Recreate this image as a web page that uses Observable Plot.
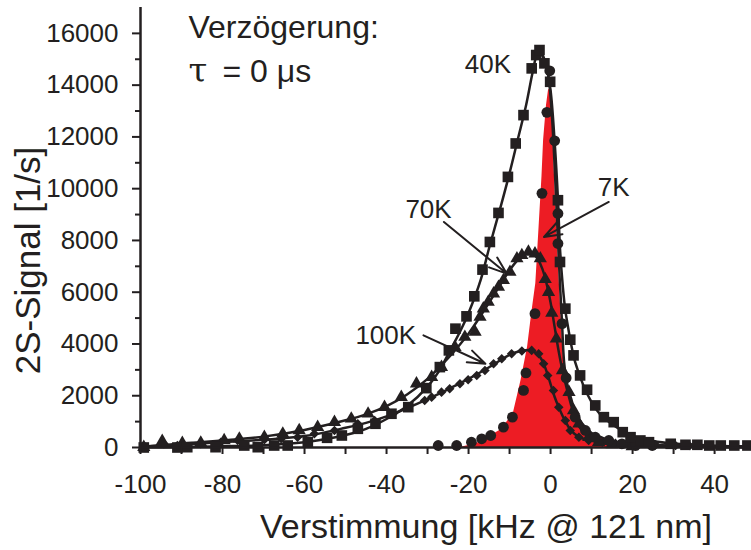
<!DOCTYPE html>
<html><head><meta charset="utf-8">
<script src="https://cdn.jsdelivr.net/npm/d3@7"></script>
<script src="https://cdn.jsdelivr.net/npm/@observablehq/plot@0.6"></script>
<style>body{margin:0;background:#fff}</style>
</head><body><div id="chart"></div>
<script>
// ---- axes ----
const xTicks = [-100, -80, -60, -40, -20, 0, 20, 40];
const xMinorTicks = [-90, -70, -50, -30, -10, 10, 30];
const yTicks = [0, 2000, 4000, 6000, 8000, 10000, 12000, 14000, 16000];
const yMinorTicks = [1000, 3000, 5000, 7000, 9000, 11000, 13000, 15000];
const xTitle = "Verstimmung [kHz @ 121 nm]";
const yTitle = "2S-Signal [1/s]";

// ---- 40K (squares) ----
const sq40x = [-99.2,-91.0,-88.6,-81.7,-74.7,-71.4,-67.4,-64.1,-59.2,-54.5,-50.9,-47.0,-42.7,-38.8,-34.7,-30.3,-27.0,-24.8,-23.2,-20.5,-18.6,-16.6,-14.8,-12.7,-10.4,-8.5,-6.6,-4.6,-3.5,-2.7,-1.5,-0.1,1.8,2.3,3.6,4.8,5.6,7.2,8.9,10.9,13.0,15.4,17.6,19.5,21.9,24.0,29.3,32.9,35.8,38.7,41.5,44.8,48.0];
const sq40y = [0,0,12,12,77,12,77,77,205,375,464,723,917,1304,1559,2294,3106,3752,4591,5067,5841,6873,7941,9063,10455,11747,12842,14648,15163,15356,14842,14130,9554,7168,5365,4166,3559,2785,2232,1625,1172,979,592,398,271,205,143,104,104,77,77,77,77];
const fit40x = [-100,-90,-80,-70,-60,-55,-50,-45,-40,-35,-30,-27,-25,-22,-20,-17,-15,-12,-10,-8,-6,-4.5,-3.5,-2.7,-2,-1,0,1,1.8,2.3,3,3.6,4,5,6,8,10,12,15,20,25,30,40,49];
const fit40y = [10,20,50,90,200,320,480,720,1100,1600,2350,3000,3600,4500,5200,6500,7700,9400,10600,11900,13200,14400,15100,15300,15150,14700,13800,11800,9600,7700,6200,5300,4900,4000,3300,2400,1750,1300,900,450,250,150,70,40];

// ---- 70K (triangles) ----
const tr70x = [-99.2,-94.7,-89.8,-85.3,-79.6,-75.9,-69.8,-65.3,-61.3,-56.8,-52.7,-48.6,-44.5,-40.5,-36.4,-32.7,-29.0,-26.6,-23.3,-20.9,-18.4,-17.2,-16.4,-15.2,-13.9,-12.7,-11.5,-9.9,-8.2,-7.0,-5.4,-3.8,-2.5,-1.3,-0.5,0.3,1.4,2.9,4.5,5.6,6.9,9.3,11.7,15,19.9];
const tr70y = [10,244,166,182,271,337,398,530,658,785,979,1110,1304,1559,1946,2464,2719,3106,3880,4267,4460,5040,5365,5620,5945,6200,6460,6780,7300,7427,7554,7492,7300,6500,6000,5200,4200,2980,2140,1431,917,398,205,116,39];
const fit70x = [-100,-90,-80,-70,-60,-50,-45,-40,-35,-30,-25,-22,-20,-17,-15,-12,-10,-8,-6.5,-5,-4,-3,-2,-1,0,1,2,3,4,5,6,7,9,12,15,20,30,49];
const fit70y = [30,150,270,420,680,1050,1280,1600,2050,2650,3450,4000,4400,5100,5600,6350,6850,7250,7480,7520,7450,7250,6900,6350,5600,4650,3700,2900,2250,1650,1150,800,430,200,110,60,30,10];

// ---- 100K (diamonds) ----
const di100x = [-99.2,-94.3,-91,-85.3,-80.4,-76.3,-69.8,-65.7,-61.7,-57.6,-52.7,-47.0,-42.9,-38.4,-34.7,-30.7,-29.0,-26.6,-24.6,-22.1,-20.1,-18.0,-16.0,-13.9,-11.9,-9.5,-7.0,-4.6,-2.9,-1.7,-0.7,0.7,2.0,3.6,4.8,6.9,9.3,12.6,15.8,19.1,25.6,30.5,33.8];
const di100y = [12,143,77,143,205,271,298,337,398,530,658,917,1044,1304,1559,1818,1946,2139,2270,2464,2618,2785,2978,3237,3430,3624,3725,3752,3624,3237,2785,2205,1559,1044,658,398,271,205,166,143,104,77,77];
const fit100x = [-100,-90,-80,-70,-60,-50,-45,-40,-35,-30,-25,-20,-15,-12,-10,-8,-6,-5,-4,-3,-2,-1,0,1,2,3,4,5,7,10,15,20,30,49];
const fit100y = [30,110,210,300,440,760,950,1200,1520,1870,2250,2650,3100,3400,3580,3700,3760,3760,3700,3580,3350,2950,2450,1950,1550,1200,900,650,400,260,180,130,80,40];

// ---- 7K (circles, red profile) ----
const ci7x = [-27.4,-22.9,-19.3,-16.8,-14.6,-11.5,-9.3,-6.6,-6.0,-3.8,-2.1,-0.9,-0.2,1.0,1.8,1.8,2.8,3.8,6.0,8.5,10.9,14.2,17.4,20.7,24.8];
const ci7y = [77,77,205,337,464,785,1172,2205,2880,5171,9820,12950,14555,11850,9040,7880,4785,2690,1172,658,398,271,143,77,77];
const fit7x = [-2.5,-1.5,-0.5,0.3,0.8,1.3,1.8,2.3,2.8,3.3,4,5,6,7.7,10,12.6,16,20,30,49];
const fit7y = [15300,15000,14300,12900,11500,9800,8000,6300,4800,3300,2500,1900,1400,930,560,380,200,110,50,20];
const red7x = [-22,-18,-15.2,-12,-9.1,-7.2,-5.6,-4.6,-3.6,-2.8,-2.1,-1.7,-1.0,-0.5,0,0.4,0.7,1.2,1.7,2.2,2.7,3.2,4,5,6,7.7,10,12.6,16,20,22];
const red7y = [0,150,398,700,1304,2592,3880,5171,6332,8521,10455,11875,13200,13800,13900,13700,11500,9600,7800,6200,4700,3300,2450,1850,1350,900,540,370,180,40,0];

// ---- annotations ----
const labelText = ["40K", "70K", "7K", "100K"];
const labelX = [-20.9, -35.4, 11.5, -47.6];
const labelY = [14455, 8858, 9709, 4011];
const arrowX1 = [-26.0, 14.2, -31.0];
const arrowY1 = [8715, 9488, 4332];
const arrowX2 = [-10.7, -1.6, -15.9];
const arrowY2 = [6719, 8134, 3237];
const noteText = ["Verzögerung:", "= 0 μs"];
const noteX = [-88.3, -80];
const noteY = [15808, 14130];
const tauText = ["τ"];

const ink = "#231f20";
const rows = (xs, ys) => xs.map((x, i) => ({x, y: ys[i]}));
const labels = labelText.map((t, i) => ({t, x: labelX[i], y: labelY[i]}));
const arrows = arrowX1.map((x1, i) => ({x1, y1: arrowY1[i], x2: arrowX2[i], y2: arrowY2[i]}));
const notes = noteText.map((t, i) => ({t, x: noteX[i], y: noteY[i]}));
const lineOpts = {x: "x", y: "y", curve: "catmull-rom", stroke: ink, strokeWidth: 2.5};

const chart = Plot.plot({
  width: 751, height: 550,
  marginLeft: 140, marginRight: 0, marginTop: 7, marginBottom: 103,
  x: {domain: [-100, 49]},
  y: {domain: [0, 17000]},
  style: {fontFamily: "'Liberation Sans', Arial, sans-serif", fontSize: "26px", color: ink, background: "#fff", overflow: "visible"},
  marks: [
    Plot.areaY(rows(red7x, red7y), {x: "x", y: "y", fill: "#ed1c24"}),
    Plot.line(rows(fit40x, fit40y), lineOpts),
    Plot.line(rows(fit70x, fit70y), lineOpts),
    Plot.line(rows(fit100x, fit100y), lineOpts),
    Plot.line(rows(fit7x, fit7y), lineOpts),
    Plot.dot(rows(di100x, di100y), {x: "x", y: "y", symbol: "diamond2", r: 4.3, fill: ink}),
    Plot.dot(rows(tr70x, tr70y), {x: "x", y: "y", symbol: "triangle", r: 4.9, fill: ink}),
    Plot.dot(rows(ci7x, ci7y), {x: "x", y: "y", symbol: "circle", r: 5.4, fill: ink}),
    Plot.dot(rows(sq40x, sq40y), {x: "x", y: "y", symbol: "square", r: 6, fill: ink}),
    Plot.arrow(arrows, {x1: "x1", y1: "y1", x2: "x2", y2: "y2", stroke: ink, strokeWidth: 2, headLength: 14, headAngle: 40}),
    Plot.text(labels, {x: "x", y: "y", text: "t", textAnchor: "start", lineAnchor: "bottom", fontSize: 26, fill: ink}),
    Plot.text(notes, {x: "x", y: "y", text: "t", textAnchor: "start", lineAnchor: "bottom", fontSize: 32, fill: ink}),
    Plot.text(tauText, {x: () => noteX[0], y: () => noteY[1], textAnchor: "start", lineAnchor: "bottom", fontSize: 34, fontFamily: "'DejaVu Serif', serif", fill: ink}),
    Plot.ruleX([-100], {stroke: ink, strokeWidth: 2.5}),
    Plot.ruleY([0], {stroke: ink, strokeWidth: 2.5}),
    Plot.axisX({ticks: xTicks, tickSize: 7, tickPadding: 20, tickFormat: d => String(d), label: null, stroke: ink, strokeWidth: 2}),
    Plot.axisX({ticks: xMinorTicks, tickSize: 7, tickFormat: () => "", label: null, stroke: ink, strokeWidth: 2}),
    Plot.axisY({ticks: yTicks, tickSize: 8, tickPadding: 14, tickFormat: d => String(d), label: null, stroke: ink, strokeWidth: 2}),
    Plot.axisY({ticks: yMinorTicks, tickSize: 5, tickFormat: () => "", label: null, stroke: ink, strokeWidth: 2}),
    Plot.text([xTitle], {frameAnchor: "bottom", dx: 40, dy: 90, textAnchor: "middle", lineAnchor: "bottom", fontSize: 34, fill: ink}),
    Plot.text([yTitle], {frameAnchor: "left", dx: -112, dy: 33, textAnchor: "middle", lineAnchor: "middle", rotate: -90, fontSize: 35, fill: ink})
  ]
});
document.getElementById("chart").appendChild(chart);
</script>
</body></html>
